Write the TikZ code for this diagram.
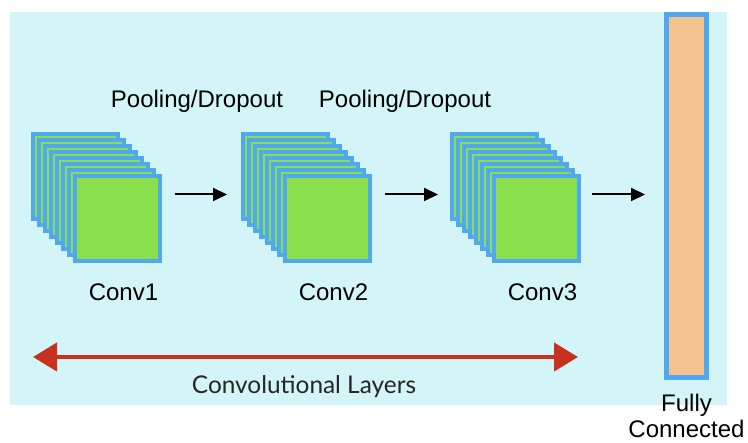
\documentclass[tikz,border=0pt]{standalone}
\usepackage{fontspec}
\setmainfont{Liberation Sans}
\newfontfamily\capfont{Lato}
\usetikzlibrary{arrows.meta}
\definecolor{bg-cyan}{HTML}{D3F5F7}
\definecolor{map-blue}{HTML}{4FA8F0}
\definecolor{map-green}{HTML}{8AE04C}
\definecolor{fc-peach}{HTML}{F2C38F}
\definecolor{span-red}{HTML}{C8301F}

\begin{document}
\begin{tikzpicture}[x=0.5pt, y=-0.5pt,
      every node/.style={font=\fontsize{12}{14.5}\selectfont},
      fmap/.style={draw=map-blue, fill=map-green, line width=2.2pt,
                   minimum size=42.3pt, inner sep=0pt},
      flow/.style={-{Triangle[length=7pt, width=6.5pt]}, line width=1pt}]
    \useasboundingbox (0,0) rectangle (748,443);
    \fill[bg-cyan] (10,12) rectangle (727,405);
    % three stacks of feature maps
    \foreach \s/\x in {1/31, 2/241, 3/450} {
      \foreach \i in {0,...,7} {
        \node[fmap] (c\s-\i) at (\x + 44.5 + 6*\i, 176.5 + 6*\i) {};
      }
      \node[anchor=north] (lab\s) at ([xshift=3pt, yshift=-7pt]c\s-7.south) {Conv\s};
    }
    % fully connected layer
    \node[draw=map-blue, fill=fc-peach, line width=2.5pt, inner sep=0pt,
          minimum width=20pt, minimum height=181.5pt] (fc) at (686.5, 196) {};
    \node[anchor=north, align=center, inner sep=0pt,
          font=\fontsize{12}{13}\selectfont] (fclab)
          at ([yshift=-7pt]fc.south) {Fully\\Connected};
    % arrows between layers
    \draw[flow] ([xshift=6.5pt]c1-7.east |- c1-3.center) -- ([xshift=-7pt]c2-0.west |- c1-3.center);
    \draw[flow] ([xshift=6.5pt]c2-7.east |- c2-3.center) -- ([xshift=-6pt]c3-0.west |- c2-3.center);
    \draw[flow] ([xshift=5.5pt]c3-7.east |- c3-3.center) -- ([xshift=-9.5pt]fc.west |- c3-3.center);
    \node (pool1) at (197, 101) {Pooling/Dropout};
    \node (pool2) at (405, 101) {Pooling/Dropout};
    % span of the convolutional part
    \coordinate (spanL) at (33, 357);
    \coordinate (spanR) at (578, 357);
    \draw[span-red, line width=2.2pt, {Triangle[length=12pt, width=14pt]}-{Triangle[length=12pt, width=14pt]}]
         (spanL) -- (spanR);
    \node[font=\capfont\fontsize{12.2}{14}\selectfont, text=black!85] (span) at (304, 387) {Convolutional Layers};
  \end{tikzpicture}
\end{document}
